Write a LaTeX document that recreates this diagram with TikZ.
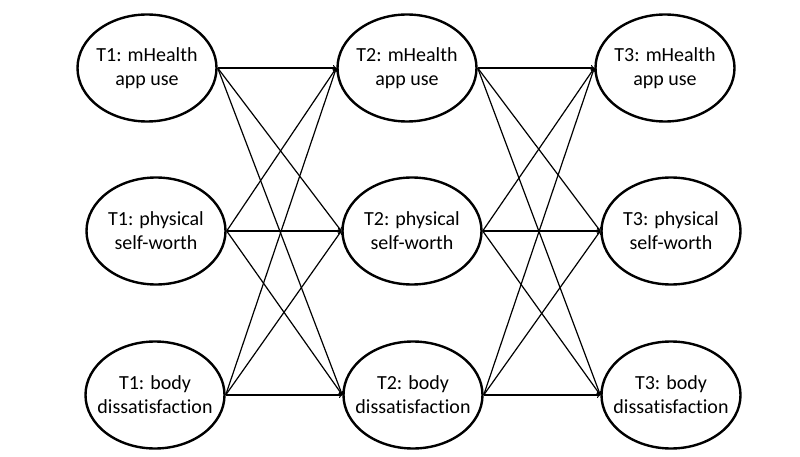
\documentclass[tikz,border=0pt]{standalone}
\usepackage{fontspec}
\setmainfont[Ligatures=NoCommon]{Carlito}
\usetikzlibrary{shapes.geometric}

\begin{document}
\begin{tikzpicture}[x=1pt,y=-1pt]
\tikzstyle{every node}+=[inner sep=0pt]
\tikzstyle{var}=[draw=black, ellipse, line width=2.4pt, inner xsep=-9pt, minimum width=139pt, minimum height=107pt, align=center, font=\fontsize{20}{24}\selectfont]
\tikzstyle{path}=[black, line width=1.2pt, -to]
\useasboundingbox (0,0) rectangle (800,457);
\node [var] (t1app) at (147,68) {T1: mHealth\\app use};
\node [var] (t1phys) at (156,231) {T1: physical\\self-worth};
\node [var] (t1body) at (155,395) {T1: body\\dissatisfaction};
\node [var] (t2app) at (407,68) {T2: mHealth\\app use};
\node [var] (t2phys) at (412,231) {T2: physical\\self-worth};
\node [var] (t2body) at (413,395) {T2: body\\dissatisfaction};
\node [var] (t3app) at (665,68) {T3: mHealth\\app use};
\node [var] (t3phys) at (671,231) {T3: physical\\self-worth};
\node [var] (t3body) at (671,395) {T3: body\\dissatisfaction};
\draw [path] (t1app.east) -- (t2app.west);
\draw [path] (t1app.east) -- (t2phys.west);
\draw [path] (t1app.east) -- (t2body.west);
\draw [path] (t1phys.east) -- (t2app.west);
\draw [path] (t1phys.east) -- (t2phys.west);
\draw [path] (t1phys.east) -- (t2body.west);
\draw [path] (t1body.east) -- (t2app.west);
\draw [path] (t1body.east) -- (t2phys.west);
\draw [path] (t1body.east) -- (t2body.west);
\draw [path] (t2app.east) -- (t3app.west);
\draw [path] (t2app.east) -- (t3phys.west);
\draw [path] (t2app.east) -- (t3body.west);
\draw [path] (t2phys.east) -- (t3app.west);
\draw [path] (t2phys.east) -- (t3phys.west);
\draw [path] (t2phys.east) -- (t3body.west);
\draw [path] (t2body.east) -- (t3app.west);
\draw [path] (t2body.east) -- (t3phys.west);
\draw [path] (t2body.east) -- (t3body.west);
\end{tikzpicture}
\end{document}
